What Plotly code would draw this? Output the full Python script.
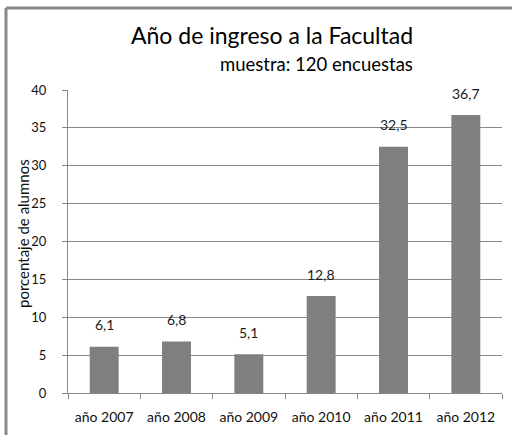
import plotly.graph_objects as go

categories = ["año 2007", "año 2008", "año 2009", "año 2010", "año 2011", "año 2012"]
values = [6.1, 6.8, 5.1, 12.8, 32.5, 36.7]
labels = ["6,1", "6,8", "5,1", "12,8", "32,5", "36,7"]
y_ticks = [0, 5, 10, 15, 20, 25, 30, 35, 40]

FONT = "Lato"
GRID = "#888888"
L, T, B, W, H = 68, 90, 42, 512, 435
PW, PH = 434, 303

fig = go.Figure()
fig.add_trace(go.Bar(
    x=categories, y=values,
    marker=dict(color="#7f7f7f", line=dict(width=0)),
    width=0.4,
    hoverinfo="skip",
))

for c, v, t in zip(categories, values, labels):
    fig.add_annotation(x=c, y=v, text=t, showarrow=False, yanchor="middle",
                       yshift=22, font=dict(family=FONT, size=14, color="#1a1a1a"))

fig.update_layout(
    width=W, height=H,
    margin=dict(l=L, r=W - L - PW, t=T, b=B),
    paper_bgcolor="white", plot_bgcolor="white",
    showlegend=False,
    separators=",.",
    font=dict(family=FONT, size=12, color="#111111"),
    xaxis=dict(
        type="category", showgrid=False, showline=True, linecolor=GRID, linewidth=1,
        ticks="outside", ticklen=5, tickcolor=GRID, tickson="boundaries",
        ticklabelstandoff=11,
        tickfont=dict(family=FONT, size=14, color="#111111"),
        range=[-0.5, 5.5], fixedrange=True,
    ),
    yaxis=dict(
        range=[0, 40], tickvals=y_ticks, showgrid=True, gridcolor=GRID, gridwidth=1,
        showline=True, linecolor=GRID, linewidth=1, zeroline=False,
        ticks="outside", ticklen=5, tickcolor=GRID, ticklabelstandoff=13,
        tickfont=dict(family=FONT, size=13, color="#111111"),
        fixedrange=True,
    ),
    shapes=[
        dict(type="line", xref="paper", yref="paper", x0=-62 / PW, x1=(W - L) / PW,
             y0=(H - B - 8) / PH, y1=(H - B - 8) / PH,
             line=dict(color="#8a8a8a", width=3)),
        dict(type="line", xref="paper", yref="paper", x0=-62 / PW, x1=-62 / PW,
             y0=-B / PH, y1=(H - B - 8) / PH,
             line=dict(color="#8a8a8a", width=3)),
    ],
)

fig.add_annotation(xref="paper", yref="paper", x=(415 - L) / PW, y=(H - B - 35) / PH,
                   xanchor="right", yanchor="middle",
                   text="Año de ingreso a la Facultad", showarrow=False,
                   font=dict(family=FONT, size=23, color="#000000"))
fig.add_annotation(xref="paper", yref="paper", x=(415 - L) / PW, y=(H - B - 64) / PH,
                   xanchor="right", yanchor="middle",
                   text="muestra: 120 encuestas", showarrow=False,
                   font=dict(family=FONT, size=18.5, color="#000000"))
fig.add_annotation(xref="paper", yref="paper", x=(23 - L) / PW, y=(H - B - 234) / PH,
                   xanchor="center", yanchor="middle", textangle=-90,
                   text="porcentaje de alumnos", showarrow=False,
                   font=dict(family=FONT, size=15, color="#111111"))

fig.write_html("out.html", config={"displayModeBar": False},
               post_script="document.body.style.margin='0';")
